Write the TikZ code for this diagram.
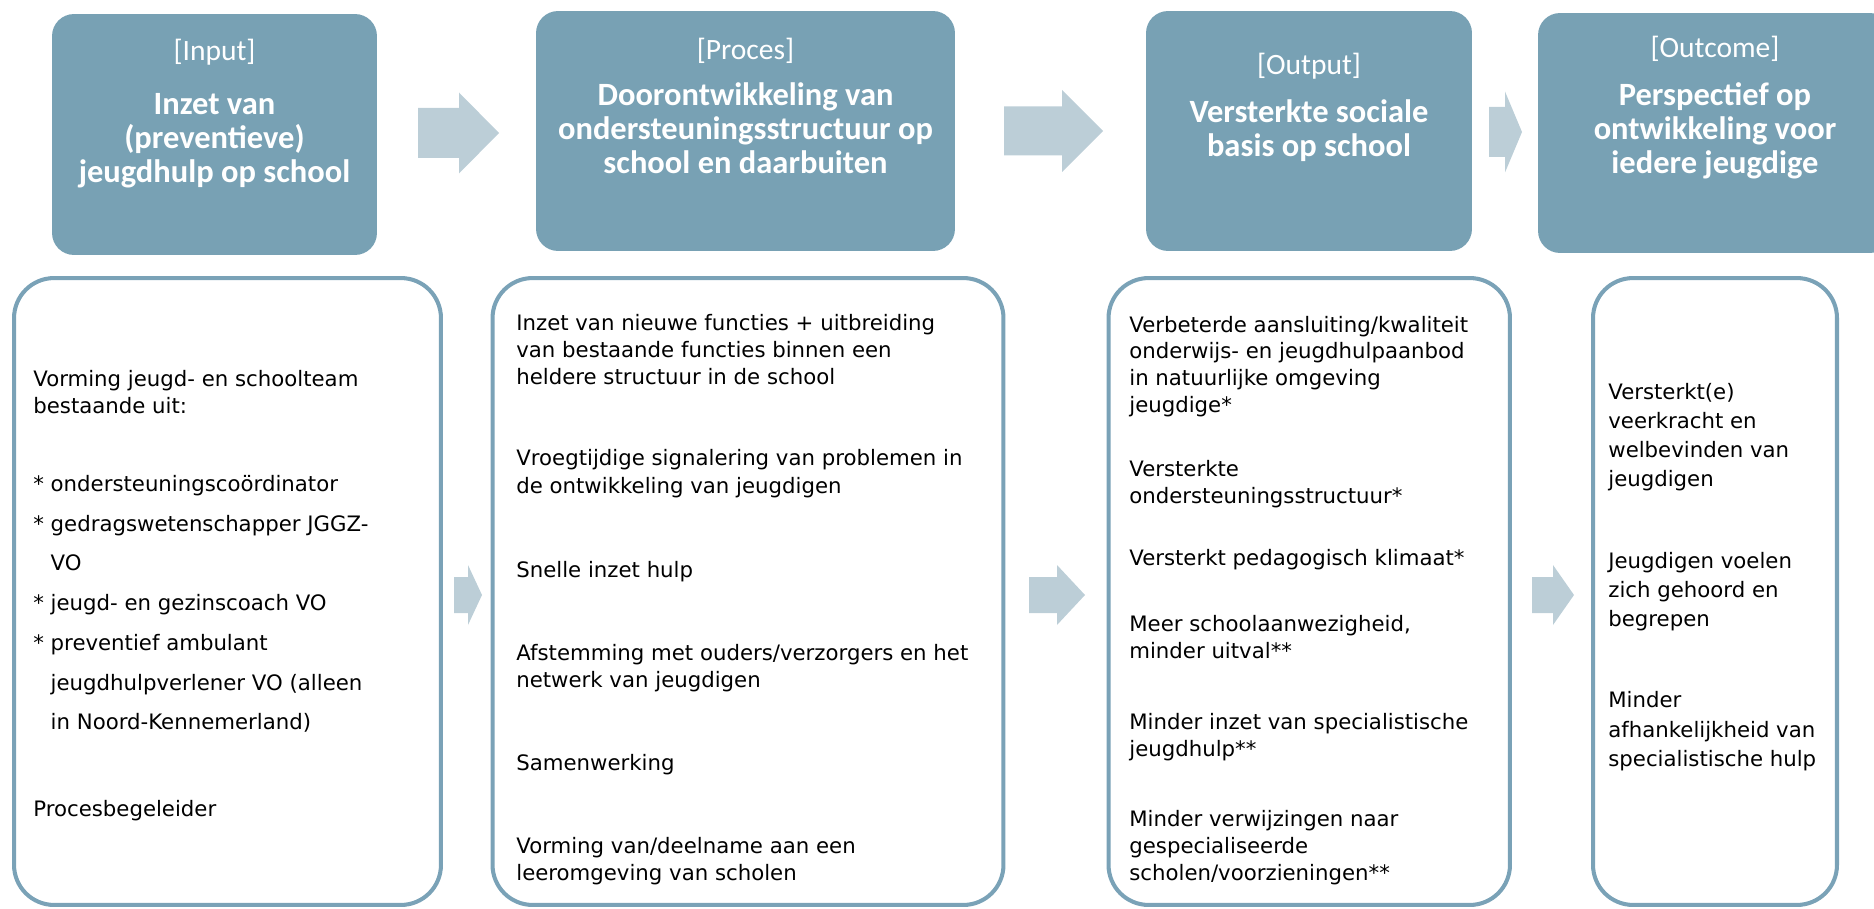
\documentclass[tikz,border=0pt]{standalone}
\usepackage{fontspec}
\setmainfont{DejaVu Sans}
\newfontfamily\headfont{Carlito}
\usepackage{tikz}

\definecolor{headblue}{RGB}{120,161,180}
\definecolor{arrowgrey}{RGB}{188,206,215}
\definecolor{rimblue}{RGB}{122,162,183}

% block arrow: x start, x head, x tip, y centre, half body, half head
\newcommand{\blockarrow}[6]{%
  \fill[arrowgrey] (#1,#4-#5) -- (#2,#4-#5) -- (#2,#4-#6) -- (#3,#4) -- (#2,#4+#6) -- (#2,#4+#5) -- (#1,#4+#5) -- cycle;}
% smaller header label
\newcommand{\steplabel}[1]{{\fontsize{16.8pt}{19.4pt}\selectfont #1}}

\tikzset{
  headbox/.style={fill=headblue, rounded corners=0.44cm, minimum height=4.8cm, inner sep=0pt},
  listbox/.style={draw=rimblue, line width=2.3pt, rounded corners=0.8cm, minimum height=12.54cm, inner sep=0pt},
  headtext/.style={anchor=base, inner sep=0pt, text=white, font=\headfont\fontsize{18.5pt}{19.4pt}\selectfont},
  bodytext/.style={anchor=base west, inner sep=0pt, font=\fontsize{12.1pt}{15.4pt}\selectfont},
}

\begin{document}
\begin{tikzpicture}[x=0.02cm,y=-0.02cm]
	\useasboundingbox (0,0) rectangle (1874,909);
	\clip (0,0) rectangle (1874,909);
	% The four headers
	\node[headbox, minimum width=6.5cm, minimum height=4.82cm] (inbox) at (214.5,134.5) {};
	\node[headbox, minimum width=8.38cm] (procbox) at (745.5,131) {};
	\node[headbox, minimum width=6.52cm] (outbox) at (1309,131) {};
	\node[headbox, minimum width=7.08cm] (outcbox) at (1715,133) {};
	\node[headtext] (intxt) at (214.5,61) {\parbox[t]{6.5cm}{\centering \steplabel{[Input]}\\[11pt]\bfseries Inzet van\\(preventieve)\\jeugdhulp op school}};
	\node[headtext] (proctxt) at (745.5,60) {\parbox[t]{8.38cm}{\centering \steplabel{[Proces]}\\[6.5pt]\bfseries Doorontwikkeling van\\ondersteuningsstructuur op\\school en daarbuiten}};
	\node[headtext] (outtxt) at (1309,75) {\parbox[t]{6.52cm}{\centering \steplabel{[Output]}\\[7.5pt]\bfseries Versterkte sociale\\basis op school}};
	\node[headtext] (outctxt) at (1715,58) {\parbox[t]{7.08cm}{\centering \steplabel{[Outcome]}\\[7.5pt]\bfseries Perspectief op\\ontwikkeling voor\\iedere jeugdige}};
	% Arrows between the headers
	\blockarrow{418}{459}{499}{133}{25}{40.5}
	\blockarrow{1004}{1062}{1103}{131}{24.5}{41}
	\blockarrow{1489}{1505}{1522}{132}{25}{40.5}
	% The four lists
	\node[listbox, minimum width=8.54cm] (inlist) at (227.5,591.5) {};
	\node[listbox, minimum width=10.22cm] (proclist) at (748,591.5) {};
	\node[listbox, minimum width=8.03cm] (outlist) at (1309.25,591.5) {};
	\node[listbox, minimum width=4.88cm] (outclist) at (1715,591.5) {};
	\node[bodytext] (intext) at (33,386.5) {\parbox[t]{8cm}{\raggedright
		Vorming jeugd- en schoolteam\\bestaande uit:\\[28.8pt]
		* ondersteuningscoördinator\\[7.25pt]
		* gedragswetenschapper JGGZ-\\[7.25pt]
		\phantom{*}~VO\\[7.25pt]
		* jeugd- en gezinscoach VO\\[7.25pt]
		* preventief ambulant\\[7.25pt]
		\phantom{*}~jeugdhulpverlener VO (alleen\\[7.25pt]
		\phantom{*}~in Noord-Kennemerland)\\[34pt]
		Procesbegeleider}};
	\node[bodytext] (proctext) at (516,330) {\parbox[t]{10cm}{\raggedright
		Inzet van nieuwe functies + uitbreiding\\van bestaande functies binnen een\\heldere structuur in de school\\[31.2pt]
		Vroegtijdige signalering van problemen in\\de ontwikkeling van jeugdigen\\[32.6pt]
		Snelle inzet hulp\\[31.8pt]
		Afstemming met ouders/verzorgers en het\\netwerk van jeugdigen\\[31.8pt]
		Samenwerking\\[31.8pt]
		Vorming van/deelname aan een\\leeromgeving van scholen}};
	\node[bodytext, font=\fontsize{12.1pt}{15.3pt}\selectfont] (outtext) at (1129,332) {\parbox[t]{8cm}{\raggedright
		Verbeterde aansluiting/kwaliteit\\onderwijs- en jeugdhulpaanbod\\in natuurlijke omgeving\\jeugdige*\\[21.1pt]
		Versterkte\\ondersteuningsstructuur*\\[20.1pt]
		Versterkt pedagogisch klimaat*\\[22.4pt]
		Meer schoolaanwezigheid,\\minder uitval**\\[25.2pt]
		Minder inzet van specialistische\\jeugdhulp**\\[24.5pt]
		Minder verwijzingen naar\\gespecialiseerde\\scholen/voorzieningen**}};
	\node[bodytext, font=\fontsize{12.1pt}{16.6pt}\selectfont] (outctext) at (1608,399) {\parbox[t]{5cm}{\raggedright
		Versterkt(e)\\veerkracht en\\welbevinden van\\jeugdigen\\[29.8pt]
		Jeugdigen voelen\\zich gehoord en\\begrepen\\[29.8pt]
		Minder\\afhankelijkheid van\\specialistische hulp}};
	% Arrows between the lists
	\blockarrow{454}{468}{482}{595}{18}{30}
	\blockarrow{1029}{1057}{1085}{595}{18}{30}
	\blockarrow{1532}{1553}{1574}{595}{18}{30}
\end{tikzpicture}
\end{document}
